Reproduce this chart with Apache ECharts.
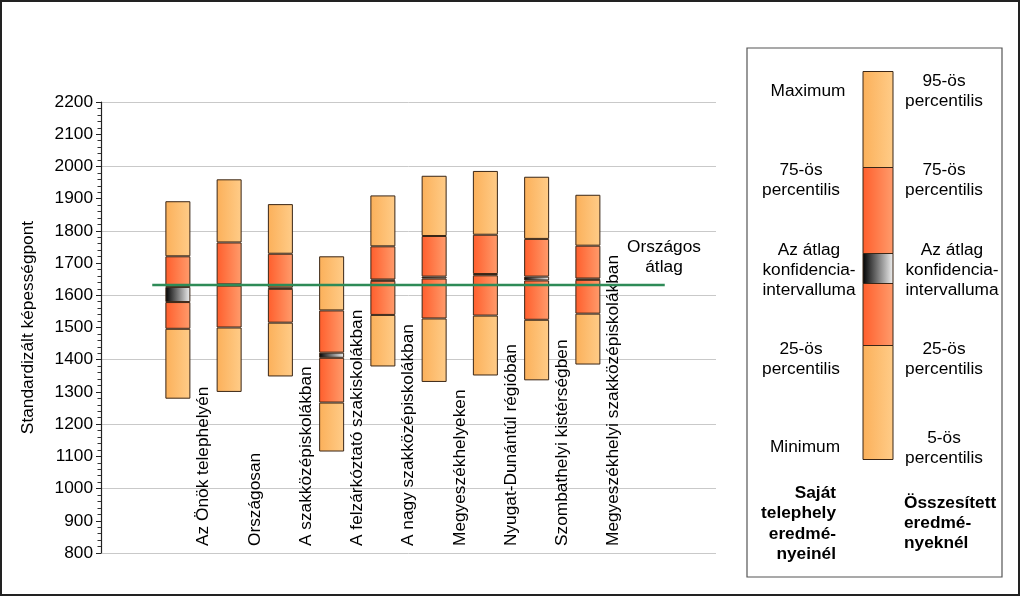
<!DOCTYPE html>
<html>
<head>
<meta charset="utf-8">
<script src="https://cdn.jsdelivr.net/npm/echarts@6/dist/echarts.min.js"></script>
<style>
html,body{margin:0;padding:0;background:#fff;}
#chart{width:1024px;height:597px;}
</style>
</head>
<body>
<div id="chart"></div>
<script>
// ---- data ----
const categories = ['Az Önök telephelyén', 'Országosan', 'A szakközépiskolákban', 'A felzárkóztató szakiskolákban', 'A nagy szakközépiskolákban', 'Megyeszékhelyeken', 'Nyugat-Dunántúl régióban', 'Szombathelyi kistérségben', 'Megyeszékhelyi szakközépiskolákban'];
const p5     = [1279, 1300, 1348, 1115, 1379, 1331, 1351, 1336, 1385];
const p25    = [1496, 1500, 1515, 1267, 1539, 1528, 1537, 1524, 1543];
const ciLow  = [1579, 1630, 1620, 1406, 1645, 1652, 1662, 1646, 1648];
const ciHigh = [1626, 1634, 1624, 1422, 1649, 1658, 1666, 1658, 1652];
const p75    = [1721, 1764, 1729, 1553, 1752, 1784, 1788, 1775, 1754];
const p95    = [1892, 1960, 1883, 1721, 1910, 1971, 1986, 1968, 1912];
const nationalAvg = 1632;
const yTicks = {min: 800, max: 2200, step: 100};

// ---- helpers ----
const FONT = "'Liberation Sans', Arial, sans-serif";
const FS = 17.3;
const lightGrad = () => new echarts.graphic.LinearGradient(0,0,1,0,[{offset:0,color:'#FBB05A'},{offset:1,color:'#FFCC88'}]);
const redGrad = () => new echarts.graphic.LinearGradient(0,0,1,0,[{offset:0,color:'#FF5E2C'},{offset:1,color:'#FF9C6C'}]);
const ciGrad = () => new echarts.graphic.LinearGradient(0,0,1,0,[{offset:0,color:'#000000'},{offset:1,color:'#F2F2F2'}]);
const BORDER = '#3a2616';

// category slots: one empty before, two empty after
const slots = ['', ...categories, '', ''];
function pad(arr){ return [null, ...arr, null, null]; }
function diff(a, b){ return a.map((v,i)=> v - b[i]); }

const segDefs = [
  {vals: p5, color: 'transparent', border: false},
  {vals: diff(p25, p5), color: lightGrad()},
  {vals: diff(ciLow, p25), color: redGrad()},
  {vals: diff(ciHigh, ciLow), color: ciGrad()},
  {vals: diff(p75, ciHigh), color: redGrad()},
  {vals: diff(p95, p75), color: lightGrad()}
];

const barSeries = segDefs.map((s, k) => ({
  type: 'bar',
  stack: 'box',
  xAxisIndex: 0,
  yAxisIndex: 0,
  barWidth: 25,
  silent: true,
  data: pad(s.vals),
  itemStyle: s.border === false
    ? {color: 'transparent', borderWidth: 0}
    : {color: s.color, borderColor: BORDER, borderWidth: 1},
  z: 2
}));

const chart = echarts.init(document.getElementById('chart'), null, {renderer: 'canvas'});

const option = {
  animation: false,
  backgroundColor: '#fff',
  textStyle: {fontFamily: FONT},
  grid: {left: 101, top: 102, right: 308, bottom: 44, containLabel: false},
  xAxis: [
    {
      type: 'category', data: slots, position: 'bottom',
      axisLine: {show: false, onZero: false}, axisTick: {show: false}, axisLabel: {show: false}, splitLine: {show: false}
    },
    {
      type: 'value', min: -0.5, max: slots.length - 0.5, interval: 1, position: 'bottom',
      axisLine: {show: false, onZero: false}, axisTick: {show: false}, splitLine: {show: false},
      axisLabel: {
        inside: true, rotate: 90, margin: 7, fontSize: FS, color: '#000', fontFamily: FONT,
        showMinLabel: true, showMaxLabel: true,
        formatter: v => { const i = Math.round(v - 0.5); return (i >= 1 && i <= categories.length) ? slots[i] : ''; }
      }
    }
  ],
  yAxis: [
    {
      type: 'value', min: yTicks.min, max: yTicks.max, interval: yTicks.step, position: 'left',
      name: 'Standardizált képességpont', nameLocation: 'middle', nameGap: 64,
      nameTextStyle: {fontSize: FS, color: '#000', fontFamily: FONT},
      axisLine: {show: true, onZero: false, lineStyle: {color: '#222', width: 1.2}},
      axisTick: {show: true, inside: false, length: 5, lineStyle: {color: '#222', width: 1}},
      minorTick: {show: true, splitNumber: 5, length: 3.5, lineStyle: {color: '#333', width: 1}},
      splitLine: {show: false},
      axisLabel: {fontSize: FS, color: '#000', margin: 8, fontFamily: FONT, formatter: v => String(v)},
      z: 6
    },
    {
      type: 'value', min: yTicks.min, max: yTicks.max, interval: yTicks.step * 2, position: 'right',
      axisLine: {show: false, onZero: false}, axisTick: {show: false}, axisLabel: {show: false},
      splitLine: {show: true, lineStyle: {color: '#c9c9c9', width: 1}}
    }
  ],
  series: [
    ...barSeries,
    {
      type: 'line', xAxisIndex: 1, yAxisIndex: 0, silent: true,
      data: [[0.5, nationalAvg], [categories.length + 1.5, nationalAvg]],
      symbol: 'none', lineStyle: {color: '#2E8B57', width: 2.5}, z: 5
    }
  ],
  graphic: [
    // outer frame
    {type: 'rect', shape: {x: 1, y: 1, width: 1018, height: 594}, style: {fill: 'none', stroke: '#222', lineWidth: 2}, z: 10},
    // Országos átlag
    {type: 'text', x: 664, y: 257, style: {text: 'Országos\nátlag', font: `${FS}px ${FONT}`, fill: '#000', textAlign: 'center', textVerticalAlign: 'middle', lineHeight: 20.5}, z: 10},
    // legend box
    {type: 'rect', shape: {x: 747, y: 48, width: 255, height: 529}, style: {fill: '#fff', stroke: '#555', lineWidth: 1.2}, z: 10},
    // legend bar
    {type: 'rect', shape: {x: 863, y: 71.5, width: 30, height: 96}, style: {fill: lightGrad(), stroke: BORDER, lineWidth: 1}, z: 11},
    {type: 'rect', shape: {x: 863, y: 167.5, width: 30, height: 86}, style: {fill: redGrad(), stroke: BORDER, lineWidth: 1}, z: 11},
    {type: 'rect', shape: {x: 863, y: 253.5, width: 30, height: 30}, style: {fill: ciGrad(), stroke: BORDER, lineWidth: 1}, z: 11},
    {type: 'rect', shape: {x: 863, y: 283.5, width: 30, height: 62}, style: {fill: redGrad(), stroke: BORDER, lineWidth: 1}, z: 11},
    {type: 'rect', shape: {x: 863, y: 345.5, width: 30, height: 114}, style: {fill: lightGrad(), stroke: BORDER, lineWidth: 1}, z: 11},
    // legend texts
    ...[
      ['Maximum', 808, 91.7],
      ['75-ös\npercentilis', 801, 180.7],
      ['Az átlag\nkonfidencia-\nintervalluma', 809, 270],
      ['25-ös\npercentilis', 801, 359],
      ['Minimum', 805, 447.3],
      ['95-ös\npercentilis', 944, 91.7],
      ['75-ös\npercentilis', 944, 180.7],
      ['Az átlag\nkonfidencia-\nintervalluma', 952, 270],
      ['25-ös\npercentilis', 944, 359],
      ['5-ös\npercentilis', 944, 448.7]
    ].map(([t, x, y]) => ({type: 'text', x, y, z: 12, style: {text: t, font: `${FS}px ${FONT}`, fill: '#000', textAlign: 'center', textVerticalAlign: 'middle', lineHeight: 20}})),
    {type: 'text', x: 836, y: 523.7, z: 12, style: {text: 'Saját\ntelephely\neredmé-\nnyeinél', font: `bold ${FS}px ${FONT}`, fill: '#000', textAlign: 'right', textVerticalAlign: 'middle', lineHeight: 20.3}},
    {type: 'text', x: 904, y: 523.3, z: 12, style: {text: 'Összesített\neredmé-\nnyeknél', font: `bold ${FS}px ${FONT}`, fill: '#000', textAlign: 'left', textVerticalAlign: 'middle', lineHeight: 20.3}}
  ]
};
chart.setOption(option);
</script>
</body>
</html>
